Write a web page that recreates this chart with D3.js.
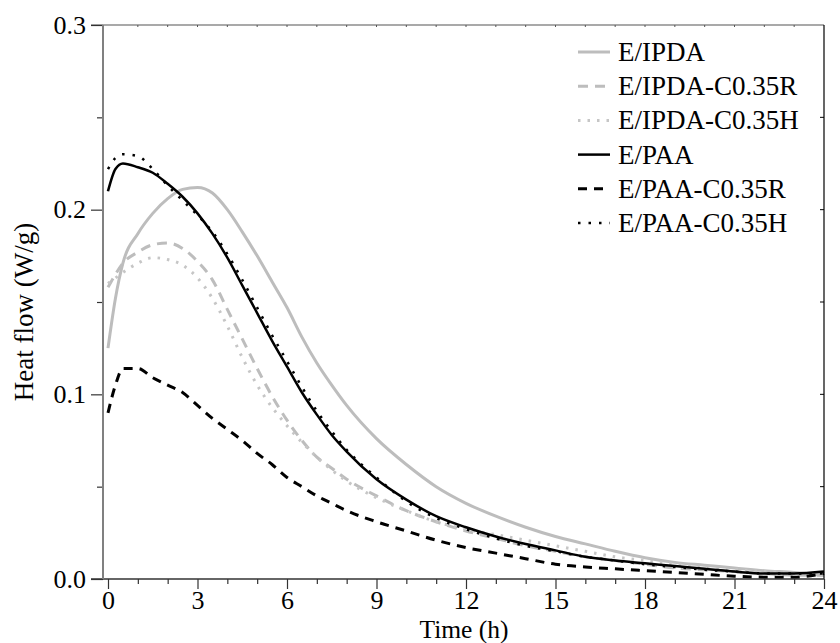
<!DOCTYPE html>
<html>
<head>
<meta charset="utf-8">
<script src="https://cdn.jsdelivr.net/npm/d3@7.9.0/dist/d3.min.js"></script>
<style>
  body { margin: 0; background: #fff; }
</style>
</head>
<body>
<svg id="chart" width="840" height="643"></svg>
<script>
// --- data (time in h, heat flow in W/g) ---
const hours = [0, 0.25, 0.5, 1, 1.5, 2, 2.5, 3, 3.5, 4, 4.5, 5, 5.5, 6, 6.5, 7, 7.5, 8,
  9, 10, 11, 12, 13, 14, 15, 16, 17, 18, 19, 20, 21, 22, 23, 24];

const ipda = [0.125, 0.152, 0.171, 0.187, 0.198, 0.206, 0.211, 0.212, 0.209, 0.200, 0.188, 0.175,
  0.161, 0.147, 0.131, 0.117, 0.105, 0.094, 0.076, 0.062, 0.050, 0.041, 0.034, 0.028, 0.023,
  0.019, 0.015, 0.0115, 0.009, 0.0075, 0.006, 0.0045, 0.0035, 0.002];
const ipdaR = [0.158, 0.165, 0.171, 0.177, 0.181, 0.182, 0.179, 0.172, 0.162, 0.146, 0.130, 0.114,
  0.099, 0.086, 0.075, 0.066, 0.060, 0.054, 0.045, 0.037, 0.031, 0.026, 0.022, 0.018, 0.015,
  0.012, 0.010, 0.008, 0.006, 0.005, 0.004, 0.003, 0.002, 0.002];
const ipdaH = [0.160, 0.163, 0.166, 0.171, 0.174, 0.173, 0.170, 0.163, 0.152, 0.137, 0.120, 0.105,
  0.093, 0.083, 0.074, 0.066, 0.059, 0.053, 0.044, 0.037, 0.031, 0.027, 0.024, 0.021, 0.018,
  0.015, 0.012, 0.010, 0.008, 0.006, 0.005, 0.004, 0.003, 0.002];
const paa = [0.210, 0.222, 0.225, 0.223, 0.220, 0.214, 0.207, 0.198, 0.187, 0.174, 0.159, 0.144,
  0.129, 0.115, 0.101, 0.089, 0.078, 0.069, 0.054, 0.043, 0.034, 0.028, 0.023, 0.019, 0.0155,
  0.012, 0.010, 0.0085, 0.007, 0.0055, 0.004, 0.003, 0.003, 0.004];
const paaR = [0.090, 0.105, 0.114, 0.114, 0.109, 0.105, 0.101, 0.094, 0.087, 0.081, 0.075, 0.068,
  0.062, 0.055, 0.050, 0.045, 0.041, 0.037, 0.031, 0.026, 0.021, 0.017, 0.014, 0.011, 0.008,
  0.0065, 0.0055, 0.0045, 0.0035, 0.0025, 0.0015, 0.001, 0.001, 0.003];
const paaH = [0.222, 0.228, 0.230, 0.229, 0.222, 0.213, 0.205, 0.197, 0.188, 0.176, 0.162, 0.147,
  0.132, 0.118, 0.104, 0.091, 0.080, 0.070, 0.055, 0.042, 0.033, 0.027, 0.022, 0.018, 0.015,
  0.012, 0.010, 0.008, 0.0065, 0.005, 0.004, 0.003, 0.003, 0.003];

const seriesNames = ['E/IPDA', 'E/IPDA-C0.35R', 'E/IPDA-C0.35H', 'E/PAA', 'E/PAA-C0.35R', 'E/PAA-C0.35H'];
const seriesValues = [ipda, ipdaR, ipdaH, paa, paaR, paaH];

const xMajor = [0, 3, 6, 9, 12, 15, 18, 21, 24];
const yMajor = [0, 0.1, 0.2, 0.3];

// line looks per series
const styles = [
  { color: '#bdbdbd', width: 3, dash: null },
  { color: '#bdbdbd', width: 3, dash: '10,7' },
  { color: '#c6c6c6', width: 3, dash: '2.5,7' },
  { color: '#000', width: 2.5, dash: null },
  { color: '#000', width: 3, dash: '9,7' },
  { color: '#000', width: 2.5, dash: '2.5,8' },
];

const FONT = 'Liberation Serif';

const svg = d3.select('#chart');
const frame = { left: 103, right: 824, top: 25, bottom: 579 };

const x = d3.scaleLinear().domain([0, 24]).range([108, frame.right]);
const y = d3.scaleLinear().domain([0, 0.3]).range([frame.bottom, frame.top]);

// --- curves ---
const line = d3.line()
  .x((d, i) => x(hours[i]))
  .y(d => y(d))
  .curve(d3.curveMonotoneX);

const curves = svg.append('g');
seriesValues.forEach((vals, k) => {
  const s = styles[k];
  curves.append('path')
    .attr('d', line(vals))
    .attr('fill', 'none')
    .attr('stroke', s.color)
    .attr('stroke-width', s.width)
    .attr('stroke-dasharray', s.dash);
});

// --- frame: top and right (small inner ticks) ---
svg.append('line')
  .attr('x1', 91).attr('x2', frame.right)
  .attr('y1', frame.top).attr('y2', frame.top)
  .attr('stroke', '#555').attr('stroke-width', 1.2);
svg.append('line')
  .attr('x1', frame.right).attr('x2', frame.right)
  .attr('y1', frame.top).attr('y2', frame.bottom)
  .attr('stroke', '#000').attr('stroke-width', 1.2);

svg.append('g').selectAll('line')
  .data(d3.range(1, 24))
  .join('line')
  .attr('x1', d => x(d)).attr('x2', d => x(d))
  .attr('y1', frame.top).attr('y2', frame.top + 2)
  .attr('stroke', '#555');

svg.append('g').selectAll('line')
  .data(d3.range(0.05, 0.3, 0.05))
  .join('line')
  .attr('x1', frame.right).attr('x2', frame.right - 4)
  .attr('y1', d => y(d)).attr('y2', d => y(d))
  .attr('stroke', '#000');

// --- bottom axis ---
const xAxis = svg.append('g')
  .attr('transform', `translate(0,${frame.bottom})`)
  .call(d3.axisBottom(x).tickValues(xMajor).tickSize(10).tickPadding(2).tickFormat(d3.format('d')));
xAxis.select('.domain').remove();
xAxis.selectAll('line').attr('stroke', '#333').attr('stroke-width', 1.2);
xAxis.selectAll('text').attr('font-family', FONT).attr('font-size', 26).attr('fill', '#000');

const xMinor = svg.append('g')
  .attr('transform', `translate(0,${frame.bottom})`)
  .call(d3.axisBottom(x).tickValues(d3.range(0, 25).filter(d => d % 3 !== 0)).tickSize(5).tickFormat(''));
xMinor.select('.domain').remove();
xMinor.selectAll('line').attr('stroke', '#333').attr('stroke-width', 1.2);

svg.append('line')
  .attr('x1', 91).attr('x2', frame.right)
  .attr('y1', frame.bottom).attr('y2', frame.bottom)
  .attr('stroke', '#333').attr('stroke-width', 1.5);

// --- left axis ---
const yAxis = svg.append('g')
  .attr('transform', `translate(${frame.left},0)`)
  .call(d3.axisLeft(y).tickValues(yMajor).tickSize(12).tickPadding(5).tickFormat(d3.format('.1f')));
yAxis.select('.domain').remove();
yAxis.selectAll('line').attr('stroke', '#333').attr('stroke-width', 1.2);
yAxis.selectAll('text').attr('font-family', FONT).attr('font-size', 26).attr('fill', '#000');

const yMinor = svg.append('g')
  .attr('transform', `translate(${frame.left},0)`)
  .call(d3.axisLeft(y).tickValues([0.05, 0.15, 0.25]).tickSize(6).tickFormat(''));
yMinor.select('.domain').remove();
yMinor.selectAll('line').attr('stroke', '#333').attr('stroke-width', 1.2);

svg.append('line')
  .attr('x1', frame.left).attr('x2', frame.left)
  .attr('y1', frame.top).attr('y2', frame.bottom)
  .attr('stroke', '#808080').attr('stroke-width', 2);

// --- axis titles ---
svg.append('text')
  .attr('x', 464).attr('y', 637.5)
  .attr('text-anchor', 'middle')
  .attr('font-family', FONT).attr('font-size', 25.5)
  .text('Time (h)');

svg.append('text')
  .attr('transform', 'translate(33,312) rotate(-90)')
  .attr('text-anchor', 'middle')
  .attr('font-family', FONT).attr('font-size', 27)
  .text('Heat flow (W/g)');

// --- legend ---
const legend = svg.append('g');
seriesNames.forEach((name, k) => {
  const s = styles[k];
  const ly = 52 + k * 34.2;
  legend.append('line')
    .attr('x1', 578).attr('x2', 610)
    .attr('y1', ly).attr('y2', ly)
    .attr('stroke', s.color)
    .attr('stroke-width', s.width)
    .attr('stroke-dasharray', s.dash);
  legend.append('text')
    .attr('x', 618).attr('y', ly + 9)
    .attr('font-family', FONT).attr('font-size', 27)
    .text(name);
});
</script>
</body>
</html>
